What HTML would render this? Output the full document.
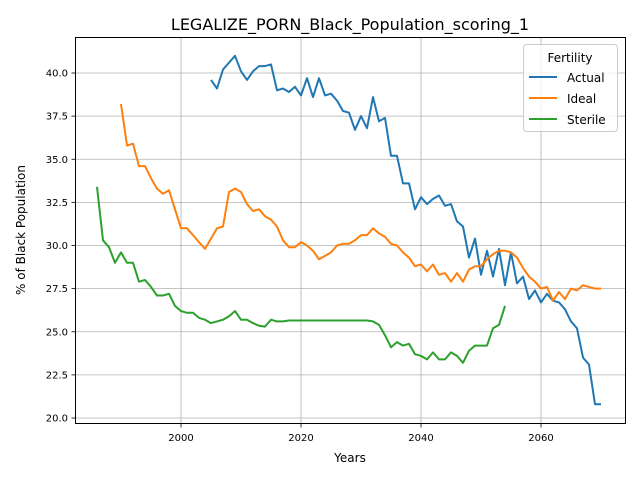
<!DOCTYPE html>
<html><head><meta charset="utf-8"><style>
body{margin:0;background:#fff;}
svg text{font-family:"DejaVu Sans","Liberation Sans",sans-serif;}
</style></head><body>
<svg id="chart" width="640" height="480" xmlns="http://www.w3.org/2000/svg">
<rect width="640" height="480" fill="#fff"/>
<text x="350" y="30" text-anchor="middle" font-size="16">LEGALIZE_PORN_Black_Population_scoring_1</text>
<g id="grid"></g>
<g id="series"></g>
<rect x="75.5" y="37.5" width="550" height="386" fill="none" stroke="#000" stroke-width="1"/>
<g id="ticks"></g>
<text x="350" y="462" text-anchor="middle" font-size="12">Years</text>
<text transform="translate(25,230) rotate(-90)" text-anchor="middle" font-size="12">% of Black Population</text>
<g>
<rect x="523.5" y="44.5" width="94" height="87" rx="3" fill="#fff" fill-opacity="0.8" stroke="#ccc"/>
<text x="570" y="62" text-anchor="middle" font-size="12">Fertility</text>
<g><line x1="529" y1="77" x2="557" y2="77" stroke="#1f77b4" stroke-width="2"/><text x="567" y="82" font-size="12">Actual</text></g>
<g><line x1="529" y1="98" x2="557" y2="98" stroke="#ff7f0e" stroke-width="2"/><text x="567" y="103" font-size="12">Ideal</text></g>
<g><line x1="529" y1="119" x2="557" y2="119" stroke="#2ca02c" stroke-width="2"/><text x="567" y="124" font-size="12">Sterile</text></g>
</g>
</svg>
<script>
const actualStart = 2005;
const actualValues = [39.6,39.1,40.2,40.6,41.0,40.1,39.6,40.1,40.4,40.4,40.5,39.0,39.1,38.9,39.2,38.7,39.7,38.6,39.7,38.7,38.8,38.4,37.8,37.7,36.7,37.5,36.8,38.6,37.2,37.4,35.2,35.2,33.6,33.6,32.1,32.8,32.4,32.7,32.9,32.3,32.4,31.4,31.1,29.3,30.4,28.3,29.7,28.2,29.8,27.7,29.6,27.8,28.2,26.9,27.4,26.7,27.2,26.8,26.7,26.3,25.6,25.2,23.5,23.1,20.8,20.8];
const idealStart = 1990;
const idealValues = [38.2,35.8,35.9,34.6,34.6,33.9,33.3,33.0,33.2,32.1,31.0,31.0,30.6,30.2,29.8,30.4,31.0,31.1,33.1,33.3,33.1,32.4,32.0,32.1,31.7,31.5,31.1,30.3,29.9,29.9,30.2,30.0,29.7,29.2,29.4,29.6,30.0,30.1,30.1,30.3,30.6,30.6,31.0,30.7,30.5,30.1,30.0,29.6,29.3,28.8,28.9,28.5,28.9,28.3,28.4,27.9,28.4,27.9,28.6,28.8,28.8,29.2,29.5,29.7,29.7,29.6,29.3,28.7,28.2,27.9,27.5,27.6,26.8,27.3,26.9,27.5,27.4,27.7,27.6,27.5,27.5];
const sterileStart = 1986;
const sterileValues = [33.4,30.3,29.9,29.0,29.6,29.0,29.0,27.9,28.0,27.6,27.1,27.1,27.2,26.5,26.2,26.1,26.1,25.8,25.7,25.5,25.6,25.7,25.9,26.2,25.7,25.7,25.5,25.35,25.3,25.7,25.6,25.6,25.65,25.65,25.65,25.65,25.65,25.65,25.65,25.65,25.65,25.65,25.65,25.65,25.65,25.65,25.6,25.4,24.8,24.1,24.4,24.2,24.3,23.7,23.6,23.4,23.8,23.4,23.4,23.8,23.6,23.2,23.9,24.2,24.2,24.2,25.2,25.4,26.5];
const xTicks = [2000,2020,2040,2060];
const yTicks = [20.0,22.5,25.0,27.5,30.0,32.5,35.0,37.5,40.0];

const NS = "http://www.w3.org/2000/svg";
function xs(year){ return 181 + (year - 2000) * 6; }
function ys(v){ return 418 - (v - 20) * 17.25; }
function mk(tag, attrs, parent){ const e=document.createElementNS(NS,tag); for(const k in attrs) e.setAttribute(k,attrs[k]); parent.appendChild(e); return e; }
const grid=document.getElementById('grid'), ticks=document.getElementById('ticks'), series=document.getElementById('series');
xTicks.forEach(t=>{
  const x=xs(t);
  const g=mk('line',{x1:x,x2:x,y1:37,y2:424,stroke:'#b0b0b0','stroke-width':0.8},grid);
  
  
  mk('line',{x1:x,x2:x,y1:424,y2:427.5,stroke:'#000','stroke-width':0.8},ticks);
  const tx=mk('text',{x:x,y:441,'text-anchor':'middle','font-size':10},ticks);
  tx.textContent=t;
  
  
});
yTicks.forEach(t=>{
  const y=ys(t);
  const g=mk('line',{x1:75,x2:625,y1:y,y2:y,stroke:'#b0b0b0','stroke-width':0.8},grid);
  
  
  mk('line',{x1:71.5,x2:75,y1:y,y2:y,stroke:'#000','stroke-width':0.8},ticks);
  const tx=mk('text',{x:68,y:y+3.5,'text-anchor':'end','font-size':10},ticks);
  tx.textContent=t.toFixed(1);
  
  
});
function draw(start, vals, color, name){
  const pts=vals.map((v,i)=>xs(start+i).toFixed(1)+','+ys(v).toFixed(1)).join(' ');
  const p=mk('polyline',{points:pts,fill:'none',stroke:color,'stroke-width':2,'stroke-linejoin':'round'},series);
  
  
}
draw(actualStart, actualValues, '#1f77b4', 'actual-line');
draw(idealStart, idealValues, '#ff7f0e', 'ideal-line');
draw(sterileStart, sterileValues, '#2ca02c', 'sterile-line');
</script>
</body></html>
